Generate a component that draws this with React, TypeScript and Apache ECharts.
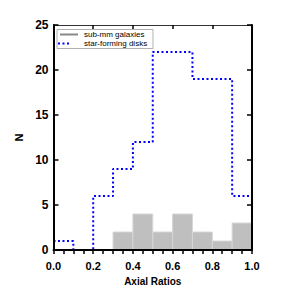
import React, { useEffect, useRef } from "react";
import * as echarts from "echarts";

const binEdges = [0.0, 0.1, 0.2, 0.3, 0.4, 0.5, 0.6, 0.7, 0.8, 0.9, 1.0];
const subMmCounts = [0, 0, 0, 2, 4, 2, 4, 2, 1, 3];
const diskCounts = [1, 0, 6, 9, 12, 22, 22, 19, 19, 6];
const legendNames = ["sub-mm galaxies", "star-forming disks"];
const xTitle = "Axial Ratios";
const yTitle = "N";

const FONT = "'Liberation Sans', Arial, Helvetica, sans-serif";

export default function App() {
  const ref = useRef<HTMLDivElement>(null);

  useEffect(() => {
    if (!ref.current) return;
    const chart = echarts.init(ref.current, undefined, { renderer: "svg" });

    const barData = subMmCounts
      .map((c, i) => [binEdges[i], binEdges[i + 1], c])
      .filter((d) => d[2] > 0);
    const lineData: number[][] = diskCounts.map((c, i) => [binEdges[i], c]);
    lineData.push([binEdges[binEdges.length - 1], diskCounts[diskCounts.length - 1]]);

    const left = 53.5;
    const top = 25;
    const right = 49;
    const bottom = 56;

    chart.setOption({
      animation: false,
      backgroundColor: "#ffffff",
      grid: { left, right, top, bottom, containLabel: false },
      xAxis: [
        {
          type: "value",
          min: 0,
          max: 1,
          interval: 0.2,
          position: "bottom",
          z: 10,
          name: xTitle,
          nameLocation: "middle",
          nameGap: 26,
          nameTextStyle: { fontFamily: FONT, fontWeight: "bold", fontSize: 10, color: "#000" },
          axisLine: { show: true, onZero: false, lineStyle: { color: "#000", width: 2 } },
          axisTick: { show: true, inside: false, length: 4, lineStyle: { color: "#000", width: 1.5 } },
          minorTick: { show: true, splitNumber: 4, length: 4, lineStyle: { color: "#000", width: 1.5 } },
          axisLabel: {
            margin: 10,
            fontFamily: FONT,
            fontWeight: "bold",
            fontSize: 11,
            color: "#000",
            formatter: (v: number) => v.toFixed(1),
          },
          splitLine: { show: false },
        },
        {
          type: "value",
          min: 0,
          max: 1,
          interval: 0.2,
          position: "top",
          axisLine: { show: true, onZero: false, lineStyle: { color: "#333", width: 1 } },
          axisTick: { show: true, inside: true, length: 4, lineStyle: { color: "#000", width: 1.5 } },
          axisLabel: { show: false },
          splitLine: { show: false },
        },
      ],
      yAxis: [
        {
          type: "value",
          min: 0,
          max: 25,
          interval: 5,
          position: "left",
          z: 10,
          name: yTitle,
          nameLocation: "middle",
          nameGap: 23,
          nameRotate: 90,
          nameTextStyle: { fontFamily: FONT, fontWeight: "bold", fontSize: 11, color: "#000" },
          axisLine: { show: true, onZero: false, lineStyle: { color: "#000", width: 2 } },
          axisTick: { show: true, inside: true, length: 5, lineStyle: { color: "#000", width: 1.5 } },
          axisLabel: { margin: 5, fontFamily: FONT, fontWeight: "bold", fontSize: 12, color: "#000" },
          splitLine: { show: false },
        },
        {
          type: "value",
          min: 0,
          max: 25,
          interval: 5,
          position: "right",
          z: 10,
          axisLine: { show: true, onZero: false, lineStyle: { color: "#000", width: 2 } },
          axisTick: { show: true, inside: true, length: 5, lineStyle: { color: "#000", width: 1.5 } },
          axisLabel: { show: false },
          splitLine: { show: false },
        },
      ],
      series: [
        {
          name: legendNames[0],
          type: "custom",
          xAxisIndex: 0,
          yAxisIndex: 0,
          data: barData,
          encode: { x: [0, 1], y: 2 },
          renderItem: (params: any, api: any) => {
            const x0 = api.value(0);
            const x1 = api.value(1);
            const y = api.value(2);
            const p0 = api.coord([x0, y]);
            const p1 = api.coord([x1, 0]);
            return {
              type: "rect",
              shape: { x: p0[0], y: p0[1], width: p1[0] - p0[0], height: p1[1] - p0[1] },
              style: { fill: "#bfbfbf", stroke: "#d6d6d6", lineWidth: 1 },
            };
          },
          z: 2,
        },
        {
          name: legendNames[1],
          type: "line",
          xAxisIndex: 0,
          yAxisIndex: 0,
          step: "end",
          symbol: "none",
          data: lineData,
          lineStyle: { color: "#0000ff", width: 2, type: [2, 2.5] },
          z: 3,
        },
      ],
      graphic: [
        {
          type: "rect",
          shape: { x: 57, y: 29.5, width: 96, height: 19 },
          style: { fill: "#fff", stroke: "#b0b0b0", lineWidth: 1 },
          z: 20,
        },
        {
          type: "line",
          shape: { x1: 60, y1: 34.5, x2: 78, y2: 34.5 },
          style: { stroke: "#888", lineWidth: 2 },
          z: 21,
        },
        {
          type: "line",
          shape: { x1: 58, y1: 43.5, x2: 70, y2: 43.5 },
          style: { stroke: "#0000ff", lineWidth: 2, lineDash: [2, 2.5] },
          z: 21,
        },
        {
          type: "text",
          x: 84,
          y: 34.5,
          style: {
            text: legendNames[0],
            font: "8px " + FONT,
            fill: "#000",
            verticalAlign: "middle",
            align: "left",
          },
          z: 21,
        },
        {
          type: "text",
          x: 84,
          y: 43.5,
          style: {
            text: legendNames[1],
            font: "8px " + FONT,
            fill: "#000",
            verticalAlign: "middle",
            align: "left",
          },
          z: 21,
        },
      ],
    });

    return () => chart.dispose();
  }, []);

  return (
    <div
      ref={ref}
      style={{ position: "fixed", left: 0, top: 0, width: 301, height: 306, background: "#fff" }}
    />
  );
}
